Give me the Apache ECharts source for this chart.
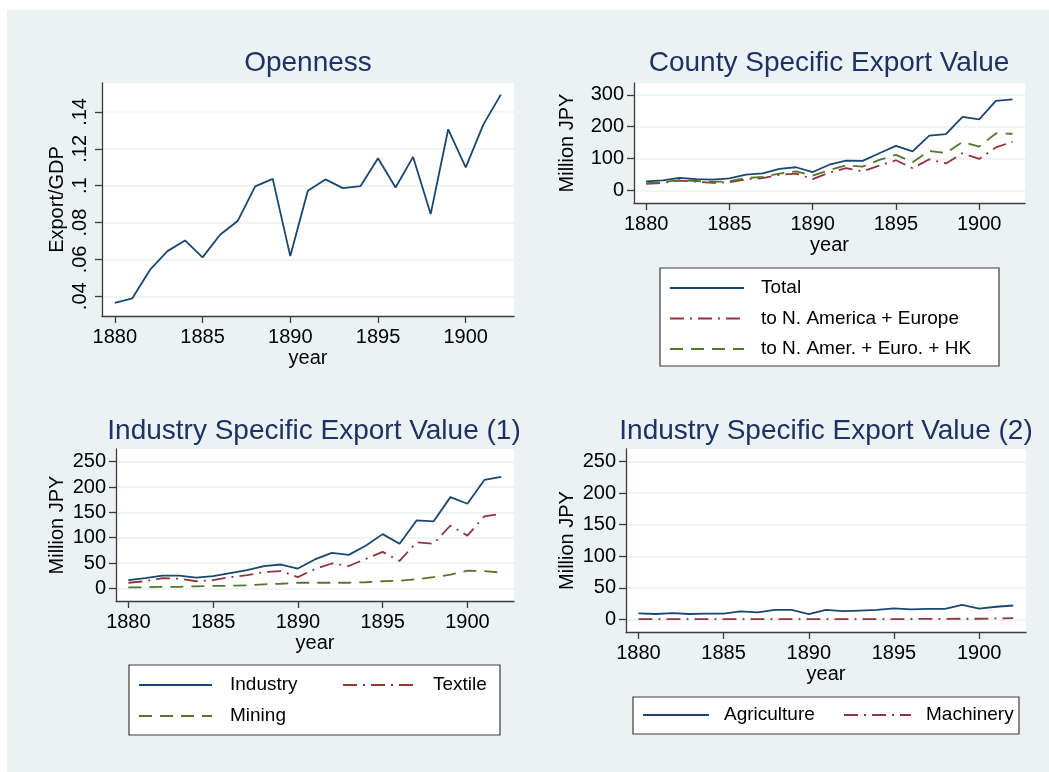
<!DOCTYPE html>
<html>
<head>
<meta charset="utf-8">
<script src="https://cdn.jsdelivr.net/npm/echarts@6/dist/echarts.min.js"></script>
<style>
  body { margin: 0; background: #fff; }
  #main { position: absolute; left: 0; top: 0; width: 1049px; height: 772px; }
  .edge { position: absolute; background: #fff; z-index: 5; }
</style>
</head>
<body>
<div id="main"></div>
<div class="edge" style="left:0;top:0;width:1049px;height:10px"></div>
<div class="edge" style="left:0;top:0;width:7px;height:772px"></div>
<script>
// years on the x axis
const years = [1880, 1881, 1882, 1883, 1884, 1885, 1886, 1887, 1888, 1889, 1890, 1891,
  1892, 1893, 1894, 1895, 1896, 1897, 1898, 1899, 1900, 1901, 1902];
const yearTicks = [1880, 1885, 1890, 1895, 1900];

// Openness (Export/GDP)
const openness = [0.0364, 0.0389, 0.0543, 0.0645, 0.0703, 0.0611, 0.0734, 0.0808, 0.0996, 0.1037,
  0.0618, 0.0972, 0.1034, 0.0987, 0.0997, 0.1149, 0.0990, 0.1156, 0.0846, 0.1306, 0.1099, 0.1331, 0.1494];
const opennessTicks = [0.04, 0.06, 0.08, 0.1, 0.12, 0.14];

// county specific export value, million JPY
const total = [29, 32, 40, 36, 34, 38, 50, 54, 68, 73, 58, 81, 94, 93, 117, 140, 123, 172, 177, 231, 223, 281, 286];
const naEurope = [21, 24, 31, 28, 24, 26, 35, 39, 49, 53, 36, 56, 70, 60, 78, 95, 70, 98, 85, 117, 99, 135, 153];
const naEuroHK = [23, 26, 33, 30, 27, 29, 39, 43, 53, 60, 47, 64, 79, 75, 96, 112, 89, 124, 118, 152, 138, 179, 178];
const countyTicks = [0, 100, 200, 300];

// industry specific export value, million JPY
const industry = [16, 20, 25, 25, 21, 24, 30, 36, 44, 47, 39, 57, 70, 66, 84, 107, 88, 134, 132, 180, 167, 214, 220];
const textile = [11, 14, 20, 19, 14, 16, 22, 26, 32, 34, 22, 38, 49, 44, 58, 72, 54, 91, 88, 124, 104, 142, 147];
const mining = [2, 2, 3, 3, 4, 5, 5, 6, 8, 9, 11, 11, 11, 11, 12, 14, 15, 18, 22, 27, 35, 34, 31];
const agriculture = [9.5, 8.5, 10, 8.5, 9, 9, 12.7, 11, 15, 15, 8.5, 15, 13, 14, 15, 17.5, 16, 16.5, 16.5, 23, 17, 20, 22];
const machinery = [0.3, 0.3, 0.3, 0.3, 0.3, 0.3, 0.3, 0.3, 0.3, 0.3, 0.3, 0.3, 0.3, 0.3, 0.4, 0.5, 0.6, 0.7, 0.8, 1, 1, 1.5, 2];
const industryTicks = [0, 50, 100, 150, 200, 250];

const FONT = 'Liberation Sans, Arial, Helvetica, sans-serif';
const NAVY = '#1a476f', MAROON = '#90353b', GREEN = '#55752f';
const DASHDOT = [14, 6, 2, 6];
const DASH = [13, 8];

function pairs(vals) {
  return years.map((y, i) => [y, vals[i]]);
}

function xAxisFor(idx) {
  return {
    type: 'value', gridIndex: idx, min: 1879.27, max: 1902.75,
    name: 'year', nameLocation: 'middle', nameGap: 32,
    nameTextStyle: {fontSize: 20, color: '#000', fontFamily: FONT},
    axisLine: {show: true, onZero: false, lineStyle: {color: '#3c3c3c', width: 1.3}},
    axisTick: {show: true, length: 7, customValues: yearTicks, lineStyle: {color: '#3c3c3c', width: 1.3}},
    axisLabel: {customValues: yearTicks, fontSize: 20, color: '#000', fontFamily: FONT, margin: 11,
      formatter: v => String(v)},
    splitLine: {show: false}
  };
}

function yAxisFor(idx, min, max, ticks, name, gap, fmt, rotate) {
  return {
    type: 'value', gridIndex: idx, min: min, max: max,
    name: name, nameLocation: 'middle', nameGap: gap,
    nameTextStyle: {fontSize: 20, color: '#000', fontFamily: FONT},
    axisLine: {show: true, onZero: false, lineStyle: {color: '#3c3c3c', width: 1.3}},
    axisTick: {show: true, length: 7, customValues: ticks, lineStyle: {color: '#3c3c3c', width: 1.3}},
    axisLabel: {customValues: ticks, fontSize: 20, color: '#000', fontFamily: FONT,
      margin: rotate ? 12 : 10, rotate: rotate || 0, formatter: fmt || (v => String(v))},
    splitLine: {show: true, lineStyle: {color: '#eaf2f3', width: 1.5}}
  };
}

function line(name, idx, vals, color, dash) {
  return {
    name: name, type: 'line', xAxisIndex: idx, yAxisIndex: idx,
    data: pairs(vals), symbol: 'none', animation: false,
    lineStyle: {color: color, width: 1.8, type: dash || 'solid'},
    itemStyle: {color: color}
  };
}

function titleAt(text, x, y) {
  return {
    text: text, left: x, top: y, textAlign: 'center',
    textStyle: {fontSize: 28, fontWeight: 'normal', color: '#1e3160', fontFamily: FONT}
  };
}

function legendAt(items, x, y, iconW, gap, rowGap) {
  return {
    data: items, orient: 'vertical', left: x, top: y, padding: 0,
    itemWidth: iconW, itemHeight: 14, itemGap: rowGap || 11, selectedMode: false,
    itemStyle: {opacity: 0},
    textStyle: {fontSize: 19, color: '#000', fontFamily: FONT, lineHeight: 20, padding: [0, 0, 0, gap]}
  };
}

function boxAt(x, y, w, h) {
  return {
    type: 'rect', shape: {x: x, y: y, width: w, height: h}, z: 1,
    style: {fill: '#fff', stroke: '#3c3c3c', lineWidth: 1.2}
  };
}

const fmtOpen = v => String(Number(v.toFixed(2))).replace(/^0\./, '.');

const chart = echarts.init(document.getElementById('main'), null, {renderer: 'canvas'});

const option = {
  backgroundColor: '#eaf2f3',
  animation: false,
  textStyle: {fontFamily: FONT},
  title: [
    titleAt('Openness', 303, 44),
    titleAt('County Specific Export Value', 824, 44),
    titleAt('Industry Specific Export Value (1)', 309, 412),
    titleAt('Industry Specific Export Value (2)', 821, 412)
  ],
  grid: [
    {left: 102, top: 83, width: 412, height: 233, show: true, backgroundColor: '#fff', borderWidth: 0},
    {left: 634, top: 83, width: 391, height: 120, show: true, backgroundColor: '#fff', borderWidth: 0},
    {left: 116, top: 449, width: 398, height: 152, show: true, backgroundColor: '#fff', borderWidth: 0},
    {left: 626, top: 449, width: 400, height: 183, show: true, backgroundColor: '#fff', borderWidth: 0}
  ],
  xAxis: [xAxisFor(0), xAxisFor(1), xAxisFor(2), xAxisFor(3)],
  yAxis: [
    yAxisFor(0, 0.0293, 0.1557, opennessTicks, 'Export/GDP', 35, fmtOpen, 90),
    yAxisFor(1, -39, 337, countyTicks, 'Million JPY', 57),
    yAxisFor(2, -25, 275, industryTicks, 'Million JPY', 49),
    yAxisFor(3, -20, 270, industryTicks, 'Million JPY', 49)
  ],
  legend: [
    legendAt(['Total', 'to N. America + Europe', 'to N. Amer. + Euro. + HK'], 669, 278, 74, 12, 10.5),
    legendAt(['Industry', 'Mining'], 138, 675, 73, 13, 11),
    legendAt(['Textile'], 342, 675, 73, 12),
    legendAt(['Agriculture'], 642, 705, 66, 10),
    legendAt(['Machinery'], 843, 705, 67, 10)
  ],
  graphic: [
    boxAt(660, 268, 339, 98),
    boxAt(129, 665, 371, 70),
    boxAt(633, 697, 386, 37)
  ],
  series: [
    line('Openness', 0, openness, NAVY),
    line('Total', 1, total, NAVY),
    line('to N. America + Europe', 1, naEurope, MAROON, DASHDOT),
    line('to N. Amer. + Euro. + HK', 1, naEuroHK, GREEN, DASH),
    line('Industry', 2, industry, NAVY),
    line('Textile', 2, textile, MAROON, DASHDOT),
    line('Mining', 2, mining, GREEN, DASH),
    line('Agriculture', 3, agriculture, NAVY),
    line('Machinery', 3, machinery, MAROON, DASHDOT)
  ]
};

chart.setOption(option);
</script>
</body>
</html>
